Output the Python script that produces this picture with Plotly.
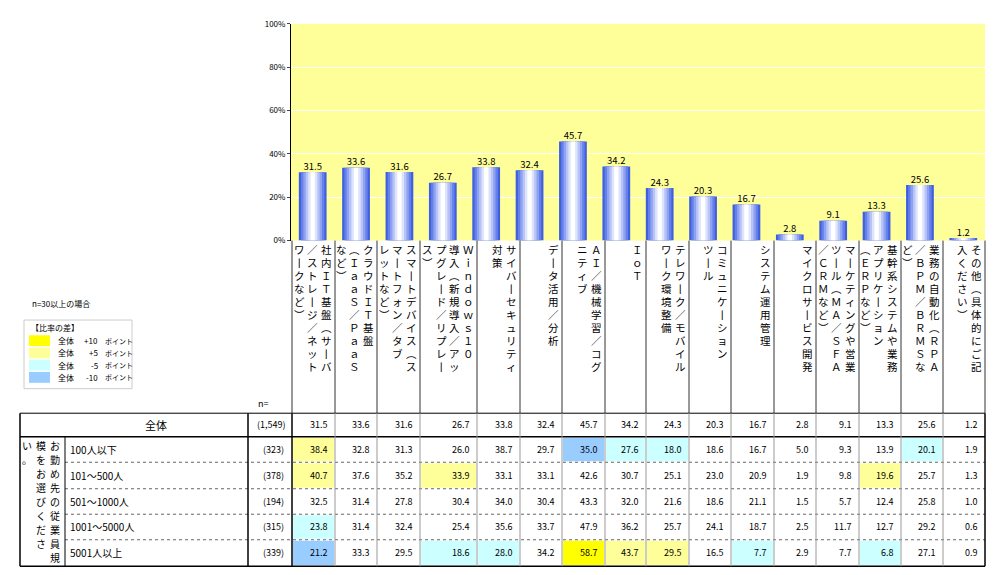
import plotly.graph_objects as go

W, H = 1000, 575
FONT = "Noto Sans CJK JP"

# bar chart / "全体" row
overall = [31.5, 33.6, 31.6, 26.7, 33.8, 32.4, 45.7, 34.2, 24.3, 20.3, 16.7, 2.8, 9.1, 13.3, 25.6, 1.2]

# category labels as vertical columns (right to left)
cat_cols = [
    ["社内ＩＴ基盤︵サ丨バ", "／ストレ丨ジ／ネット", "ワ丨クなど︶"],
    ["クラウドＩＴ基盤", "︵ＩａａＳ／ＰａａＳ", "など︶"],
    ["スマ丨トデバイス︵ス", "マ丨トフォン／タブ", "レットなど︶"],
    ["Ｗｉｎｄｏｗｓ１０", "導入︵新規導入／アッ", "プグレ丨ド／リプレ丨", "ス︶"],
    ["サイバ丨セキュリティ", "対策"],
    ["デ丨タ活用／分析"],
    ["ＡＩ／機械学習／コグ", "ニティブ"],
    ["ＩｏＴ"],
    ["テレワ丨ク／モバイル", "ワ丨ク環境整備"],
    ["コミュニケ丨ション", "ツ丨ル"],
    ["システム運用管理"],
    ["マイクロサ丨ビス開発"],
    ["マ丨ケティングや営業", "ツ丨ル︵ＭＡ／ＳＦＡ", "／ＣＲＭなど︶"],
    ["基幹系システムや業務", "アプリケ丨ション", "︵ＥＲＰなど︶"],
    ["業務の自動化︵ＲＰＡ", "／ＢＰＭ／ＢＲＭＳな", "ど︶"],
    ["その他︵具体的にご記", "入ください︶"],
]

row_labels = ["100人以下", "101～500人", "501～1000人", "1001～5000人", "5001人以上"]
row_n = ["(323)", "(378)", "(194)", "(315)", "(339)"]
overall_n = "(1,549)"
rows = [
    [38.4, 32.8, 31.3, 26.0, 38.7, 29.7, 35.0, 27.6, 18.0, 18.6, 16.7, 5.0, 9.3, 13.9, 20.1, 1.9],
    [40.7, 37.6, 35.2, 33.9, 33.1, 33.1, 42.6, 30.7, 25.1, 23.0, 20.9, 1.9, 9.8, 19.6, 25.7, 1.3],
    [32.5, 31.4, 27.8, 30.4, 34.0, 30.4, 43.3, 32.0, 21.6, 18.6, 21.1, 1.5, 5.7, 12.4, 25.8, 1.0],
    [23.8, 31.4, 32.4, 25.4, 35.6, 33.7, 47.9, 36.2, 25.7, 24.1, 18.7, 2.5, 11.7, 12.7, 29.2, 0.6],
    [21.2, 33.3, 29.5, 18.6, 28.0, 34.2, 58.7, 43.7, 29.5, 16.5, 7.7, 2.9, 7.7, 6.8, 27.1, 0.9],
]
y_ticks = [0, 20, 40, 60, 80, 100]

# layout in pixels
col_edges = [284, 327, 369, 412, 469, 512, 554, 597, 638, 681, 723, 766, 808, 851, 893, 935, 977]
row_edges = [407, 431, 457, 484, 510, 536, 563]
PX0, PX1, PY0, PY1 = 283, 977, 231, 10


def px(x):
    return x / W


def py(y):
    return 1 - y / H


def diff_color(v, base):
    d = v - base
    if d >= 10:
        return "#FFFF00"
    if d >= 5:
        return "#FFFF99"
    if d <= -10:
        return "#99CCFF"
    if d <= -5:
        return "#CCFFFF"
    return None


fig = go.Figure()
xs = list(range(len(overall)))
# fake horizontal gradient: stacked overlaid bars, blue edge to white centre
grad = ["#3F5FE0", "#6680EA", "#8FA2F2", "#B8C4F8", "#DEE4FC", "#FFFFFF"]
widths = [0.64, 0.54, 0.43, 0.32, 0.21, 0.1]
for c, w in zip(grad, widths):
    fig.add_trace(go.Bar(x=xs, y=overall, width=w, marker_color=c, marker_line_width=0,
                         hoverinfo="skip"))
fig.add_trace(go.Scatter(x=xs, y=overall, mode="text", text=[f"{v:.1f}" for v in overall],
                         textposition="top center", textfont=dict(size=9.5, color="black", family=FONT),
                         cliponaxis=False, hoverinfo="skip"))

fig.update_layout(
    width=W, height=H, margin=dict(l=0, r=0, t=0, b=0),
    paper_bgcolor="white", plot_bgcolor="#FFFF99", barmode="overlay", showlegend=False,
    font=dict(family=FONT, size=11, color="black"),
    xaxis=dict(domain=[px(PX0), px(PX1)], range=[-0.5, len(overall) - 0.5], showticklabels=False,
               showgrid=False, zeroline=False, fixedrange=True),
    yaxis=dict(domain=[py(PY0), py(PY1)], range=[0, 100], tickvals=y_ticks,
               ticktext=[f"{t}%" for t in y_ticks], tickfont=dict(size=8),
               showgrid=True, gridcolor="white", gridwidth=1, zeroline=False,
               showline=True, linecolor="black", ticks="outside", ticklen=3),
)

shapes = []
ann = []


def line(x0, y0, x1, y1, color="black", width=1, dash="solid"):
    shapes.append(dict(type="line", xref="paper", yref="paper", x0=px(x0), y0=py(y0),
                       x1=px(x1), y1=py(y1), line=dict(color=color, width=width, dash=dash)))


def rect(x0, y0, x1, y1, fill, color=None):
    shapes.append(dict(type="rect", xref="paper", yref="paper", x0=px(x0), y0=py(y0),
                       x1=px(x1), y1=py(y1), fillcolor=fill, layer="below",
                       line=dict(width=1 if color else 0, color=color or fill)))


def text(x, y, s, size=10, xanchor="center", yanchor="middle"):
    ann.append(dict(xref="paper", yref="paper", x=px(x), y=py(y), text=s, showarrow=False,
                    xanchor=xanchor, yanchor=yanchor, font=dict(size=size, family=FONT)))


def vtext(x, ytop, s, size=10.5, lh=13.2):
    for i, ch in enumerate(s):
        text(x, ytop + lh * i + lh / 2, ch, size=size)


# category label area
for i, cols in enumerate(cat_cols):
    x0, x1 = col_edges[i], col_edges[i + 1]
    for j, s in enumerate(cols):
        vtext(x1 - 9 - j * 13.5, 234, s)
for x in col_edges:
    line(x, 231, x, 407, color="#333333")

# table cell highlights
for r, vals in enumerate(rows):
    for c, v in enumerate(vals):
        col = diff_color(v, overall[c])
        if col:
            rect(col_edges[c] + 1, row_edges[r + 1] + 1, col_edges[c + 1] - 1, row_edges[r + 2] - 1, col)

# table values
all_rows = [overall] + rows
for r, vals in enumerate(all_rows):
    yc = (row_edges[r] + row_edges[r + 1]) / 2
    for c, v in enumerate(vals):
        text(col_edges[c + 1] - 5, yc, f"{v:.1f}", size=9, xanchor="right")
text(280, (row_edges[0] + row_edges[1]) / 2, overall_n, size=9, xanchor="right")
text(148, (row_edges[0] + row_edges[1]) / 2, "全体", size=11)
for r in range(5):
    yc = (row_edges[r + 1] + row_edges[r + 2]) / 2
    text(60, yc, row_labels[r], size=10, xanchor="left")
    text(278, yc, row_n[r], size=9, xanchor="right")
text(248, 397, "n=", size=9, xanchor="left")

# table grid
for k, y in enumerate(row_edges):
    if 2 <= k <= 5:
        line(57, y, 977, y, color="#666666", width=1, dash="dot")
    else:
        line(12, y, 977, y, color="black", width=1.5 if k in (1, 6) else 1)
line(12, 407, 12, 563, width=1.5)
line(57, 431, 57, 563)
line(240, 407, 240, 563, width=1.5)
line(284, 407, 284, 563, width=1.5)
line(977, 407, 977, 563, width=1.5)
for x in col_edges[1:-1]:
    line(x, 407, x, 563, color="#999999")

# vertical group label
grp = ["お勤め先の従業員規", "模をお選びくださ", "い。"]
for j, s in enumerate(grp):
    vtext(47 - j * 14, 433, s, size=10, lh=14.2)

# legend
text(22, 295, "n=30以上の場合", size=8, xanchor="left")
rect(16, 312, 124, 382, "white", color="#cccccc")
text(21, 320, "【比率の差】", size=8, xanchor="left")
leg = [("#FFFF00", "+10"), ("#FFFF99", "+5"), ("#CCFFFF", "-5"), ("#99CCFF", "-10")]
for k, (c, t) in enumerate(leg):
    yc = 333 + k * 12.5
    rect(21, yc - 5.5, 42, yc + 5.5, c)
    text(48, yc, "全体", size=8, xanchor="left")
    text(92, yc, t, size=8, xanchor="right")
    text(95, yc, "ポイント", size=7, xanchor="left")

fig.update_layout(shapes=shapes, annotations=ann)
fig.write_html("out.html")
